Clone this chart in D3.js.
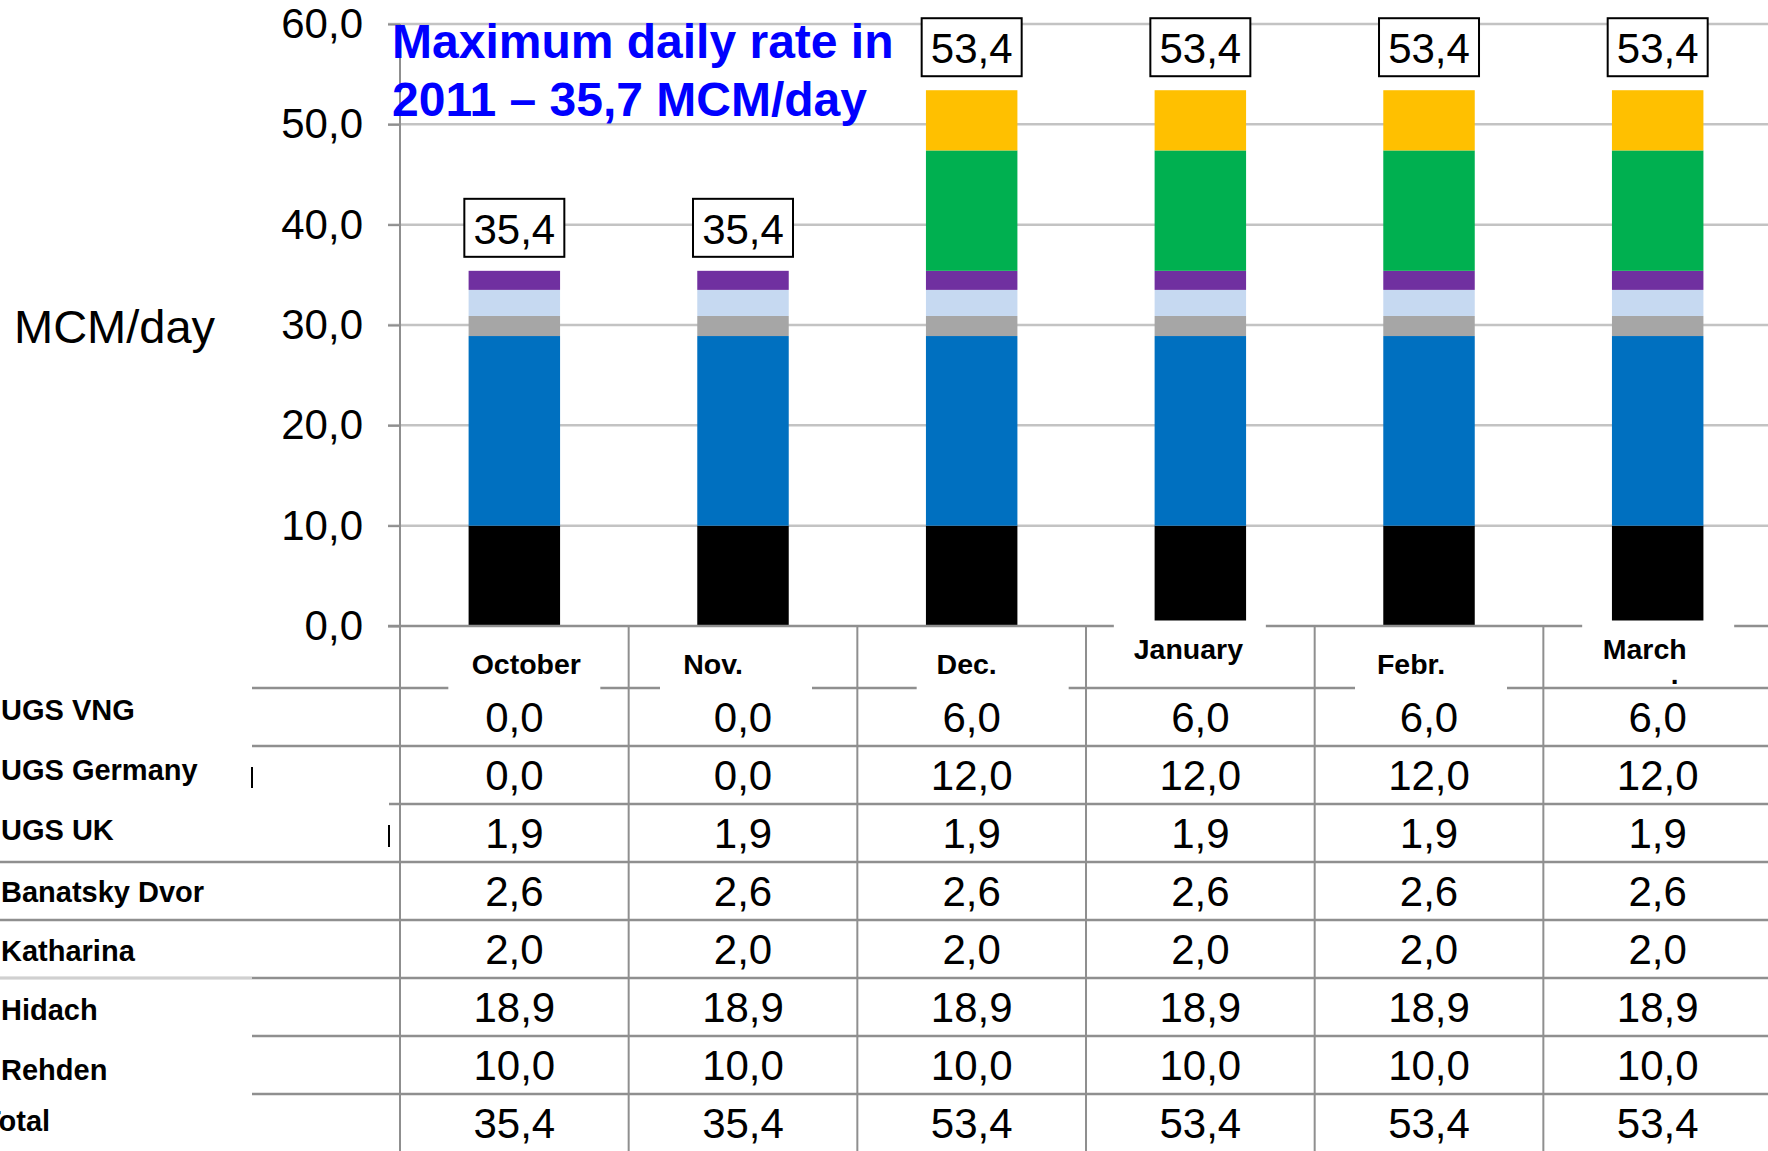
<!DOCTYPE html>
<html><head><meta charset="utf-8">
<script src="https://cdn.jsdelivr.net/npm/d3@7"></script>
<style>
body{margin:0;background:#fff;overflow:hidden}
svg{display:block}
text{font-family:"Liberation Sans",Arial,Helvetica,sans-serif}
</style>
</head><body>
<svg id="c" width="1768" height="1151"></svg>
<script>
// ---- data ----
const months = ["October", "Nov.", "Dec.", "January", "Febr.", "March"];
const rehden = [10.0, 10.0, 10.0, 10.0, 10.0, 10.0];
const hidach = [18.9, 18.9, 18.9, 18.9, 18.9, 18.9];
const katharina = [2.0, 2.0, 2.0, 2.0, 2.0, 2.0];
const banatskyDvor = [2.6, 2.6, 2.6, 2.6, 2.6, 2.6];
const ugsUK = [1.9, 1.9, 1.9, 1.9, 1.9, 1.9];
const ugsGermany = [0.0, 0.0, 12.0, 12.0, 12.0, 12.0];
const ugsVNG = [0.0, 0.0, 6.0, 6.0, 6.0, 6.0];
const totals = [35.4, 35.4, 53.4, 53.4, 53.4, 53.4];
const yTicks = [0, 10, 20, 30, 40, 50, 60];
const seriesNames = ["Rehden", "Hidach", "Katharina", "Banatsky Dvor", "UGS UK", "UGS Germany", "UGS VNG"];
const tableRowNames = ["UGS VNG", "UGS Germany", "UGS UK", "Banatsky Dvor", "Katharina", "Hidach", "Rehden", "Total"];
const titleLines = ["Maximum daily rate in", "2011 \u2013 35,7 MCM/day"];
const yLabel = "MCM/day";

// ---- styles / layout ----
const colors = {"Rehden":"#000000","Hidach":"#0070C0","Katharina":"#A6A6A6","Banatsky Dvor":"#C6D9F1",
  "UGS UK":"#7030A0","UGS Germany":"#00B050","UGS VNG":"#FFC000"};
const W = 1768, H = 1151;
const axisX = 400, y0 = 626, yTop = 24;
const rowH = 58, tableTop = 688;
const gridColor = "#C3C3C3", lineColor = "#8F8F8F";

const seriesMap = {"Rehden":rehden,"Hidach":hidach,"Katharina":katharina,"Banatsky Dvor":banatskyDvor,
  "UGS UK":ugsUK,"UGS Germany":ugsGermany,"UGS VNG":ugsVNG};
const rows = months.map((m,i)=>{const o={month:m}; seriesNames.forEach(s=>o[s]=seriesMap[s][i]); return o;});

const loc = d3.formatLocale({decimal:",", thousands:".", grouping:[3], currency:["","€"]});
const fmt = loc.format(".1f");

const svg = d3.select("#c");
const x = d3.scaleBand().domain(months).range([axisX, axisX + 6*228.67]).padding(0);
const y = d3.scaleLinear().domain([0,60]).range([y0, yTop]);
const barW = x.bandwidth()*0.4;

// gridlines
svg.append("g").selectAll("line").data(yTicks.filter(d=>d>0)).join("line")
  .attr("x1", axisX-12).attr("x2", W).attr("y1", d=>y(d)).attr("y2", d=>y(d))
  .attr("stroke", gridColor).attr("stroke-width", 2.5);

// bars
const stack = d3.stack().keys(seriesNames)(rows);
svg.append("g").selectAll("g").data(stack).join("g").attr("fill", d=>colors[d.key])
  .selectAll("rect").data(d=>d).join("rect")
  .attr("x", d=>x(d.data.month) + (x.bandwidth()-barW)/2)
  .attr("width", barW)
  .attr("y", d=>y(d[1])).attr("height", d=>y(d[0])-y(d[1]));

// y axis
const yAxis = d3.axisLeft(y).tickValues(yTicks).tickSize(12).tickPadding(25).tickFormat(fmt);
const ga = svg.append("g").attr("transform", `translate(${axisX},0)`).call(yAxis);
ga.select(".domain").remove();
ga.selectAll(".tick line").attr("stroke", lineColor).attr("stroke-width", 2);
ga.selectAll(".tick text").attr("font-size", 42).attr("fill", "#000")
  .attr("font-family", '"Liberation Sans",Arial,sans-serif');
svg.append("line").attr("x1", axisX).attr("x2", axisX).attr("y1", yTop).attr("y2", H)
  .attr("stroke", lineColor).attr("stroke-width", 2);

// zero line / table header top
svg.append("line").attr("x1", axisX-12).attr("x2", W).attr("y1", y0).attr("y2", y0)
  .attr("stroke", lineColor).attr("stroke-width", 2.5);

// table column lines
const colBounds = months.slice(1).map(m=>x(m));
svg.append("g").selectAll("line").data(colBounds).join("line")
  .attr("x1", d=>d).attr("x2", d=>d).attr("y1", y0).attr("y2", H)
  .attr("stroke", lineColor).attr("stroke-width", 2);

// table row lines
const lineStarts = [252, 252, 389, 0, 0, 0, 252, 252];
svg.append("g").selectAll("line").data(lineStarts).join("line")
  .attr("x1", d=>d).attr("x2", W)
  .attr("y1", (d,i)=>tableTop + i*rowH).attr("y2", (d,i)=>tableTop + i*rowH)
  .attr("stroke", lineColor).attr("stroke-width", 2.5);
svg.append("line").attr("x1", 0).attr("x2", 252).attr("y1", tableTop+5*rowH).attr("y2", tableTop+5*rowH)
  .attr("stroke", "#D0D0D0").attr("stroke-width", 2);
// small stray marks
svg.append("line").attr("x1",252).attr("x2",252).attr("y1",767).attr("y2",788).attr("stroke","#000").attr("stroke-width",2);
svg.append("line").attr("x1",389).attr("x2",389).attr("y1",825).attr("y2",847).attr("stroke","#000").attr("stroke-width",2);

// category labels with white boxes
const boxDx = [10, -7, 21, -10.5, 2, 0.5];
const textDx = [12, -30, -5, -12, -18, -13];
const raised = [false, false, false, true, false, true];
const cats = svg.append("g").selectAll("g").data(months).join("g");
cats.append("rect")
  .attr("x", (d,i)=>x(d)+x.bandwidth()/2+boxDx[i]-76).attr("width", 152)
  .attr("y", (d,i)=>raised[i]?620.5:632).attr("height", (d,i)=>raised[i]?63:60)
  .attr("fill", "#fff");
cats.append("text")
  .attr("x", (d,i)=>x(d)+x.bandwidth()/2+textDx[i])
  .attr("y", (d,i)=>raised[i]?659:674)
  .attr("text-anchor","middle").attr("font-size",28.5).attr("font-weight","bold").text(d=>d);
svg.append("text").attr("x", x("March")+x.bandwidth()/2+17).attr("y", 684)
  .attr("text-anchor","middle").attr("font-size",28).attr("font-weight","bold").text(".");

// table values
const tableSeries = [ugsVNG, ugsGermany, ugsUK, banatskyDvor, katharina, hidach, rehden, totals];
tableSeries.forEach((arr, r)=>{
  svg.append("g").selectAll("text").data(arr).join("text")
    .attr("x", (d,i)=>x(months[i])+x.bandwidth()/2)
    .attr("y", tableTop + r*rowH + rowH/2 + 15)
    .attr("text-anchor","middle").attr("font-size",42).text(d=>fmt(d));
});

// row labels
const rowBaselines = [720, 780, 840, 902, 961, 1020, 1080, 1131];
svg.append("g").selectAll("text").data(tableRowNames).join("text")
  .attr("x", (d,i)=> d==="Total" ? -17 : 1).attr("y", (d,i)=>rowBaselines[i])
  .attr("font-size",29).attr("font-weight","bold").text(d=>d);

// data labels (totals) boxes
const dl = svg.append("g").selectAll("g").data(totals).join("g");
dl.append("rect")
  .attr("x", (d,i)=>x(months[i])+x.bandwidth()/2-50).attr("width", 100)
  .attr("y", d=>y(d)-14-58).attr("height", 58)
  .attr("fill","#fff").attr("stroke","#000").attr("stroke-width",2);
dl.append("text")
  .attr("x", (d,i)=>x(months[i])+x.bandwidth()/2)
  .attr("y", d=>y(d)-14-13)
  .attr("text-anchor","middle").attr("font-size",42).text(d=>fmt(d));

// title
svg.append("g").selectAll("text").data(titleLines).join("text")
  .attr("x", 392).attr("y", (d,i)=>58 + i*58)
  .attr("font-size",48).attr("font-weight","bold").attr("fill","#0000FF").text(d=>d);

// y label
svg.append("text").attr("x", 14).attr("y", 343).attr("font-size", 47).text(yLabel);
</script>
</body></html>
